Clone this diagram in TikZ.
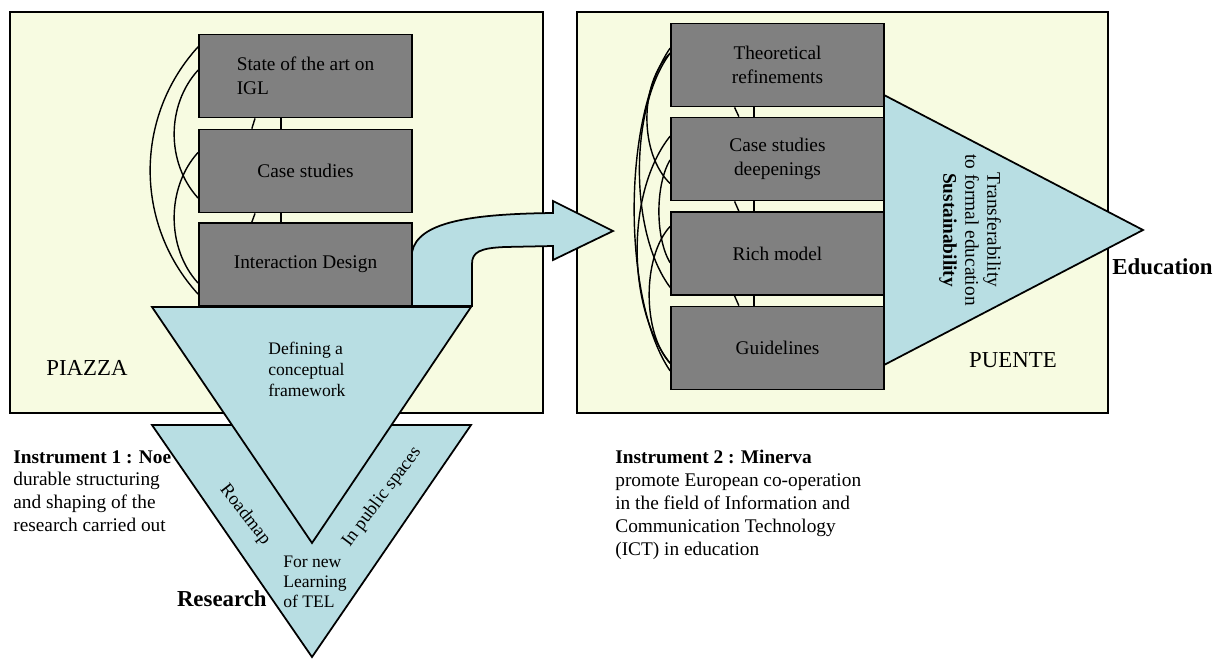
\documentclass[tikz,border=0pt]{standalone}
\usepackage{fontspec}
\setmainfont{Liberation Serif}
\usepackage{tikz}
\usetikzlibrary{calc}
\definecolor{paper}{HTML}{F7FBE1}
\definecolor{funnelblue}{HTML}{B8DEE3}
\definecolor{boxgrey}{HTML}{808080}

\begin{document}
\begin{tikzpicture}[x=0.02cm, y=-0.02cm,
  frame/.style={draw, line width=1pt, fill=paper},
  block/.style={draw, line width=1pt, fill=boxgrey, minimum width=4.26cm, minimum height=1.66cm, inner sep=0pt, align=center, font=\fontsize{11}{13.5}\selectfont},
  link/.style={line width=0.8pt},
  funnel/.style={draw, line width=1pt, fill=funnelblue, line join=miter}]
\useasboundingbox (0,0) rectangle (1223,659);
%画布大小(1223 x 659),单位为像素(x=0.02cm)
\draw[frame] (10,12) rectangle (543,413);
\draw[frame] (577,12) rectangle (1108,413);
%两个浅黄色框(frame):左边PIAZZA,右边PUENTE
\node[font=\fontsize{13}{15}\selectfont] (piazza) at (87,368) {PIAZZA};
\node[font=\fontsize{13}{15}\selectfont] (puente) at (1013,360) {PUENTE};
\node[anchor=north west, align=left, inner sep=0pt, font=\fontsize{11}{13}\selectfont] (noe) at (13,450) {\textbf{Instrument 1 : Noe}\\durable structuring\\and shaping of the\\research carried out};
\node[anchor=north west, align=left, inner sep=0pt, font=\fontsize{11}{13}\selectfont] (minerva) at (615,450) {\textbf{Instrument 2 : Minerva}\\promote European co-operation\\in the field of Information and\\Communication Technology\\(ICT) in education};
%框下方的说明文字(align=left)
\node[block, align=left] (state) at (305.5,76) {State of the art on\\ IGL};
\node[block] (case) at (305.5,171) {Case studies};
\node[block] (inter) at (305.5,264.5) {Interaction Design};
%左边三个灰色方块(block)
\node[block] (theo) at (777.5,65) {Theoretical\\refinements};
\node[block] (deep) at (777.5,159) {Case studies\\deepenings};
\node[block] (rich) at (777.5,253.5) {Rich model};
\node[block] (guide) at (777.5,348) {Guidelines};
%右边四个灰色方块(block)
\foreach \a/\fa/\b/\fb/\c/\k in {state/0.155/inter/0.85/64/70, state/0.43/case/0.82/32/35, case/0.28/inter/0.72/32/35}
  \draw[link] ($(\a.north west)!\fa!(\a.south west)$) .. controls +(-\c,\k) and +(-\c,-\k) .. ($(\b.north west)!\fb!(\b.south west)$);
%左边方块之间的弧线(link),从\a到\b,向左凸出
\foreach \a/\fa/\b/\fb/\c/\k in {theo/0.30/guide/0.77/48/70, theo/0.36/rich/0.90/41/55, theo/0.36/deep/0.79/31/30, deep/0.23/guide/0.68/44/55, deep/0.51/rich/0.61/15/25, rich/0.18/guide/0.68/28/30}
  \draw[link] ($(\a.north west)!\fa!(\a.south west)$) .. controls +(-\c,\k) and +(-\c,-\k) .. ($(\b.north west)!\fb!(\b.south west)$);
%右边方块之间的弧线(link)
\foreach \a/\b in {state/case, case/inter} {
  \draw[link] ($(\a.south west)!0.265!(\a.south east)$) -- ($(\b.north west)!0.25!(\b.north east)$);
  \draw[link] ($(\a.south west)!0.385!(\a.south east)$) -- ($(\b.north west)!0.385!(\b.north east)$);}
\foreach \a/\b in {theo/deep, deep/rich, rich/guide} {
  \draw[link] ($(\a.south west)!0.30!(\a.south east)$) -- ($(\b.north west)!0.32!(\b.north east)$);
  \draw[link] ($(\a.south west)!0.39!(\a.south east)$) -- ($(\b.north west)!0.39!(\b.north east)$);}
%相邻方块之间的两条短线
\draw[funnel] (884,95) -- (1143,230) -- (884,365) -- cycle;
\node[rotate=-90, align=center, font=\fontsize{11}{12.5}\selectfont] (sust) at (970,230) {Transferability\\to formal education\\\textbf{Sustainability}};
\node[anchor=west, inner sep=0pt, font=\bfseries\fontsize{13}{15}\selectfont] (edu) at (1112,267) {Education};
%右边的三角形,文字旋转(rotate=-90)
\draw[funnel] (412,306) -- (412,252) .. controls (418,222) and (470,214) .. (553,213) -- (553,201) -- (613,231) -- (553,260) -- (553,246) -- (505,247) .. controls (480,248) and (472,252) .. (472,264) -- (472,306) -- cycle;
%从左边到右边的弯箭头
\draw[funnel] (152,425) -- (471,425) -- (312,657) -- cycle;
\draw[funnel] (152,307) -- (471,307) -- (312,543) -- cycle;
%两个倒三角形,先画下面的,再画上面的
\node[anchor=west, align=left, inner sep=0pt, font=\fontsize{10}{12}\selectfont] (define) at (268,369) {Defining a\\conceptual\\framework};
\node[anchor=west, align=left, inner sep=0pt, font=\fontsize{10}{11.4}\selectfont] (fornew) at (283,582) {For new\\Learning\\of TEL};
\node[rotate=-52, font=\fontsize{10.5}{12}\selectfont] (road) at (245,515) {Roadmap};
\node[rotate=53, font=\fontsize{10.5}{12}\selectfont] (public) at (382,497) {In public spaces};
\node[anchor=east, inner sep=0pt, font=\bfseries\fontsize{13}{15}\selectfont] (research) at (267,599) {Research};
%三角形里和旁边的文字
\end{tikzpicture}
\end{document}
